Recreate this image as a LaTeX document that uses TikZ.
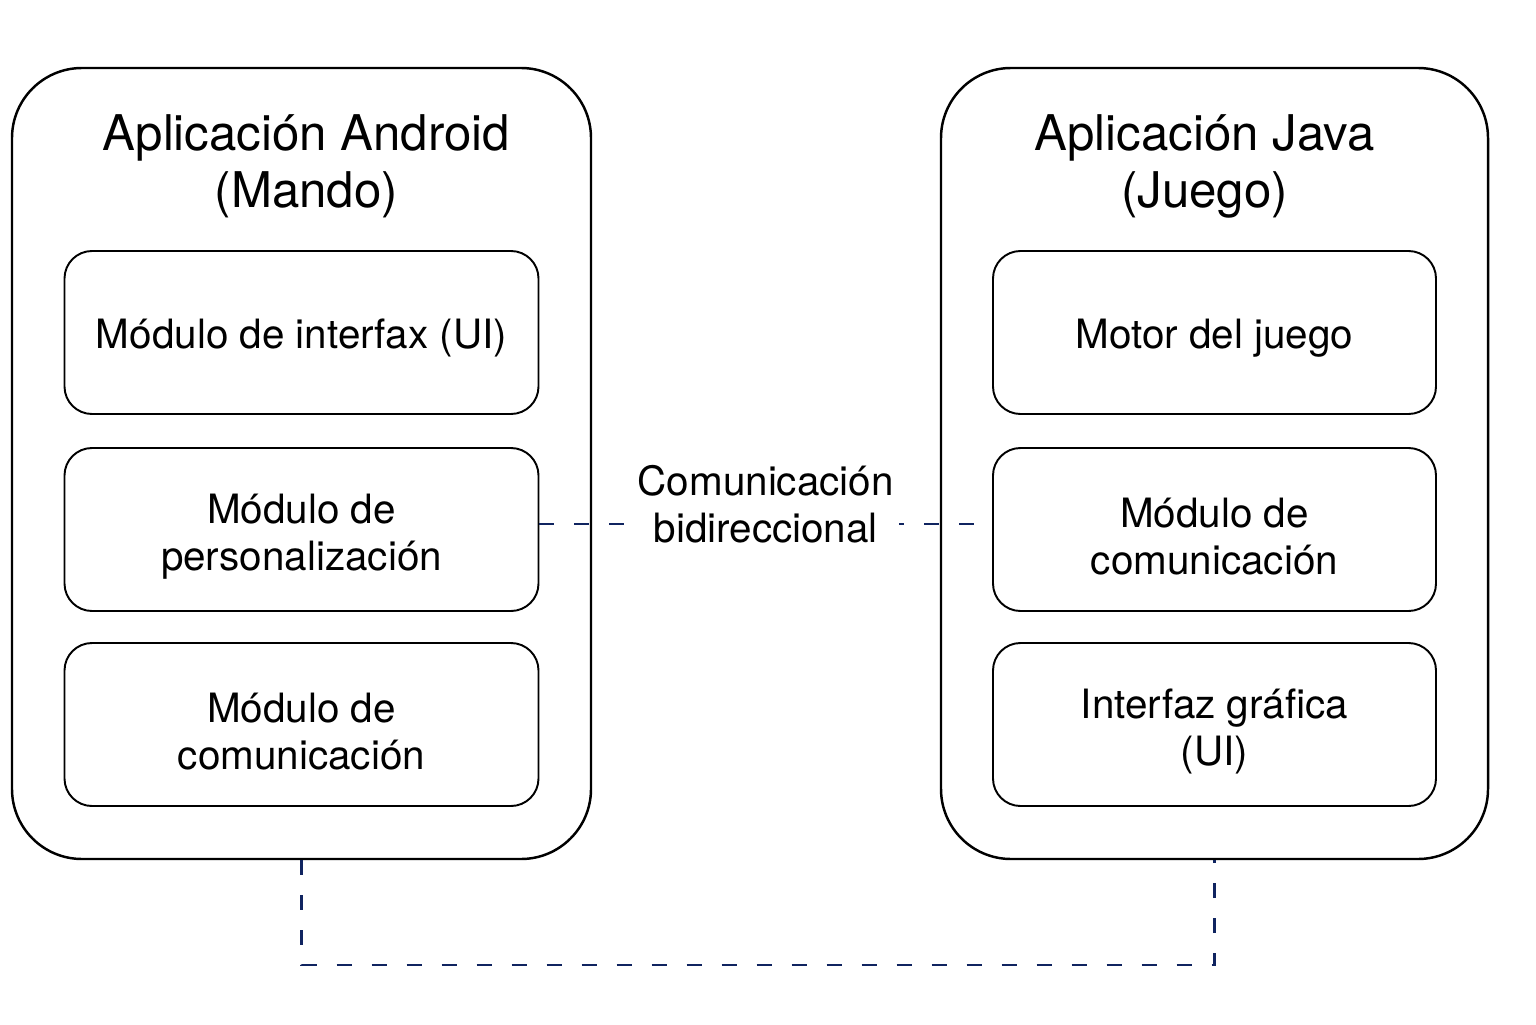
\documentclass[tikz,border=0pt]{standalone}
\usepackage{fontspec}
\setmainfont{TeX Gyre Heros}
\definecolor{azul}{RGB}{16,36,96}
\tikzset{
    app/.style = {draw, rounded corners = 1.4cm, line width = 1.4pt, minimum height = 15.82cm},
    modulo/.style = {draw, rounded corners = 0.55cm, line width = 1.1pt, minimum height = 3.26cm, align = center, text height = 0.82cm, font = \fontsize{23}{26.8}\selectfont},
    doble/.style = {text height = 1.82cm},
    titulo/.style = {align = center, font = \fontsize{28}{32.4}\selectfont},
    enlace/.style = {draw = azul, line width = 1.4pt, dash pattern = on 0.3cm off 0.4cm},
}
\begin{document}
\begin{tikzpicture}
    \useasboundingbox (0,0) rectangle (30.72,20.48);
    \def\xl{6.03}
    \def\xr{24.29}
    % aplicaciones
    \node(andr) [app, minimum width = 11.58cm] at (\xl,11.21) {};
    \node(java) [app, minimum width = 10.94cm] at (\xr,11.21) {};
    \node(tandr) [titulo] at (\xl + 0.1,17.16) {Aplicación Android\\(Mando)};
    \node(tjava) [titulo] at (\xr - 0.2,17.16) {Aplicación Java\\(Juego)};
    % modulos
    \node(lui) [modulo, minimum width = 9.48cm] at (\xl,13.83) {Módulo de interfax (UI)};
    \node(lp) [modulo, doble, minimum width = 9.48cm] at (\xl,9.89) {Módulo de\\personalización};
    \node(lc) [modulo, doble, minimum width = 9.48cm] at (\xl,5.99) {Módulo de\\comunicación};
    \node(rm) [modulo, minimum width = 8.86cm] at (\xr,13.83) {Motor del juego};
    \node(rc) [modulo, doble, minimum width = 8.86cm] at (\xr,9.89) {Módulo de\\comunicación};
    \node(rui) [modulo, doble, minimum width = 8.86cm] at (\xr,5.99) {Interfaz gráfica\\(UI)};
    % conexiones
    \draw[enlace] ([yshift = 0.11cm]lp.east) -- ([yshift = 0.11cm]rc.west)
        node(com) [midway, yshift = 0.4cm, fill = white, inner sep = 0.1cm, align = center, font = \fontsize{23}{26.8}\selectfont] {Comunicación\\bidireccional};
    \draw[enlace] (andr.south) -- ++(0,-2.1) -| (java.south);
\end{tikzpicture}
\end{document}
